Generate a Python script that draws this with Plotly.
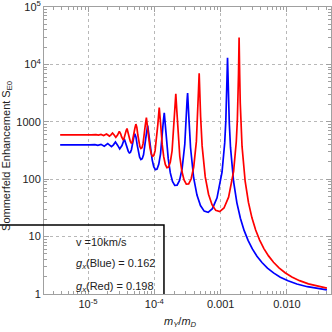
import plotly.graph_objects as go

# ---- data (x = m_Y/m_D, y = S_E0) ----
red_x = [0.0400, 0.03035, 0.02107, 0.01548, 0.01185, 0.009366, 0.007586, 0.00627, 0.005268, 0.004489,
         0.003871, 0.003372, 0.002963, 0.002625, 0.002341, 0.0021015, 0.0020157, 0.0019748, 0.0019351, 0.0018966,
         0.0018592, 0.001823, 0.0017877, 0.0017203, 0.0015675, 0.0013171, 0.0011223, 0.0009677, 0.0008429, 0.0007409,
         0.0006563, 0.0005854, 0.0005254, 0.0004988, 0.0004887, 0.0004838, 0.00047415, 0.0004648, 0.0004603, 0.0004513,
         0.00043007, 0.00039186, 0.00035853, 0.00032927, 0.00030346, 0.00028056, 0.00026017, 0.00024191, 0.00022552, 0.00021794,
         0.00021073, 0.00020388, 0.00019735, 0.00018521, 0.00017416, 0.00016407, 0.00015482, 0.00014634, 0.00013854, 0.00013134,
         0.00012469, 0.00011854, 0.00011283, 0.00010752, 0.00010257, 0.00009797, 0.00009366, 0.00008963, 0.00008586, 0.00008232,
         0.00007899, 0.00007586, 0.00007292, 0.00007014, 0.00006752, 0.00006504, 0.0000627, 0.00006048, 0.00005838, 0.00005638,
         0.00005448, 0.00005268, 0.00005097, 0.00004934, 0.00004779, 0.0000463, 0.00004489, 0.00004354, 0.00004225, 0.00004102,
         0.00003984, 0.00003871, 0.00003762, 0.00003659, 0.00003559, 0.00003464, 0.00003372, 0.00003284, 0.00003199, 0.00003117,
         0.00003039, 0.00002963, 0.00002787, 0.00002625, 0.00002477, 0.00002341, 0.00002217, 0.00002101, 0.00001995, 0.00001897,
         0.0000172, 0.00001567, 0.00001434, 0.00001317, 0.0000112, 0.0000038]
red_y = [1.264, 1.345, 1.500, 1.706, 1.979, 2.348, 2.854, 3.567, 4.608, 6.175,
         8.69, 13.0, 21.2, 39.4, 92.1, 372.5, 1002, 2126, 6814, 29300,
         6963, 2269, 1113, 449.4, 136.9, 48.6, 31.5, 27.2, 28.6, 35.9,
         54.7, 109.6, 380.7, 1229, 2525, 3849, 7040, 3825, 2556, 1304,
         450.8, 161.5, 100.6, 82.6, 82.3, 97.0, 137.5, 250.4, 712, 1610,
         3070, 1605, 763.8, 313.0, 199.7, 163.1, 159.0, 181.3, 243.9, 403.6,
         884.8, 1770, 894.8, 457.4, 310.6, 257.8, 249.7, 277.3, 353.4, 523.4,
         876.9, 1186, 863.3, 556.1, 412.1, 352.9, 342.2, 370.8, 446.2, 588.8,
         797.0, 912.5, 780.1, 601.4, 489.3, 435.9, 425.1, 450.2, 512.2, 610.5,
         719.5, 764.2, 706.6, 612.2, 538.6, 498.9, 490.2, 508.9, 552.0, 610.8,
         664.3, 682.5, 585.8, 535.5, 589.1, 637.7, 591.0, 563.6, 589.9, 614.0,
         578.5, 603.2, 586.1, 597.7, 593, 593]

blue_x = [0.0400, 0.031743, 0.020315, 0.014108, 0.010365, 0.0079356, 0.00627, 0.0050788, 0.0041974, 0.0035269,
          0.0030052, 0.0025912, 0.0022572, 0.0019839, 0.0017574, 0.0015675, 0.0014069, 0.0013494, 0.001322, 0.0012955,
          0.0012697, 0.0012447, 0.0012204, 0.0011968, 0.0011517, 0.0010493, 0.00088174, 0.0007513, 0.00064781, 0.00056431,
          0.00049598, 0.00043934, 0.00039188, 0.00035172, 0.00033391, 0.00032717, 0.00032387, 0.00031743, 0.00031117, 0.00030811,
          0.00030213, 0.00028791, 0.00026233, 0.00024002, 0.00022043, 0.00020315, 0.00018782, 0.00017417, 0.00016195, 0.00015098,
          0.0001459, 0.00014108, 0.00013649, 0.00013212, 0.00012399, 0.00011659, 0.00010984, 0.00010365, 0.000097971, 0.000092747,
          0.000087929, 0.000083478, 0.000079356, 0.000075532, 0.00007198, 0.00006867, 0.000065584, 0.000062701, 0.000060005, 0.00005748,
          0.000055109, 0.000052882, 0.000050788, 0.000048816, 0.000046956, 0.000045201, 0.000043543, 0.000041974, 0.000040488, 0.00003908,
          0.000037744, 0.000036475, 0.00003527, 0.000032504, 0.000030052, 0.000027868, 0.000025912, 0.000024157, 0.000022572, 0.00002114,
          0.000019839, 0.000017574, 0.000015675, 0.000014069, 0.000012697, 0.0000105, 0.0000038]
blue_y = [1.182, 1.223, 1.339, 1.491, 1.694, 1.964, 2.327, 2.827, 3.529, 4.554,
          6.097, 8.57, 12.81, 20.86, 38.73, 90.27, 361.5, 952.2, 1949, 5358,
          13100, 5389, 2053, 1048, 433.1, 133.3, 47.42, 30.68, 26.44, 27.78,
          34.77, 52.8, 105.0, 352.9, 1024, 1797, 2369, 3157, 2324, 1784,
          1058, 409.4, 152.2, 95.4, 78.42, 77.93, 91.5, 128.6, 227.9, 575.8,
          1039, 1427, 1014, 596.4, 276.3, 181.8, 149.9, 146.2, 165.4, 217.3,
          337.5, 605.8, 859, 595.9, 367.4, 266.6, 226.9, 220.6, 241.5, 295.2,
          395.8, 540.4, 616.6, 526.2, 405.6, 329.8, 294.0, 287.5, 305.3, 347.3,
          411.1, 476.6, 500.8, 386.4, 337.4, 391.6, 443.8, 397.2, 368.7, 393.6,
          416.6, 374.5, 404.5, 388.3, 399.7, 397, 397]

x_tickvals = [1e-5, 1e-4, 1e-3, 1e-2]
x_ticktext = ["10<sup>-5</sup>", "10<sup>-4</sup>", "0.001", "0.010"]
y_tickvals = [1, 10, 100, 1000, 1e4, 1e5]
y_ticktext = ["1", "10", "100", "1000", "10<sup>4</sup>", "10<sup>5</sup>"]

x_minor = [k * 10.0 ** d for d in range(-6, -1) for k in range(2, 10)]
y_minor = [k * 10.0 ** d for d in range(0, 5) for k in range(2, 10)]

FONT = "Liberation Sans, Arial, sans-serif"
TXT = "#222222"
FRAME = "#a0a0a0"

fig = go.Figure()
fig.add_trace(go.Scatter(x=blue_x, y=blue_y, mode="lines",
                         line=dict(color="#0000ff", width=1.7), showlegend=False))
fig.add_trace(go.Scatter(x=red_x, y=red_y, mode="lines",
                         line=dict(color="#ff0000", width=1.7), showlegend=False))

axis_common = dict(type="log", showline=True, linecolor=FRAME, linewidth=1, mirror="ticks",
                   ticks="inside", ticklen=5, tickcolor=FRAME, tickwidth=1,
                   showgrid=True, gridcolor="#b8b8b8", griddash="dot", gridwidth=1,
                   zeroline=False, tickfont=dict(family=FONT, size=11, color=TXT),
                   automargin=False, ticklabeloverflow="allow")

fig.update_xaxes(range=[-5.664, -1.336], tickmode="array", tickvals=x_tickvals, ticktext=x_ticktext,
                 minor=dict(tickmode="array", tickvals=x_minor, ticks="inside", ticklen=3,
                            tickcolor=FRAME, showgrid=False),
                 **axis_common)
fig.update_yaxes(range=[-0.0005, 5.0005], tickmode="array", tickvals=y_tickvals, ticktext=y_ticktext,
                 minor=dict(tickmode="array", tickvals=y_minor, ticks="inside", ticklen=3,
                            tickcolor=FRAME, showgrid=False),
                 **axis_common)

# legend-like box (top and right edges)
fig.add_shape(type="path", xref="paper", yref="paper",
              path="M -0.2,0.2404 L 0.418,0.2404 L 0.418,0",
              line=dict(color="black", width=1.5), layer="above")

ann_font = dict(family=FONT, size=11, color=TXT)
fig.add_annotation(xref="paper", yref="paper", x=0.1045, y=0.1822, xanchor="left", yanchor="middle",
                   text="v =10km/s", showarrow=False, font=ann_font)
fig.add_annotation(xref="paper", yref="paper", x=0.1045, y=0.1035, xanchor="left", yanchor="middle",
                   text="<i>g</i><sub><i>x</i></sub>(Blue) = 0.162", showarrow=False, font=ann_font)
fig.add_annotation(xref="paper", yref="paper", x=0.1045, y=0.0244, xanchor="left", yanchor="middle",
                   text="<i>g</i><sub><i>x</i></sub>(Red) = 0.198", showarrow=False, font=ann_font)

# axis titles
fig.add_annotation(xref="paper", yref="paper", x=-0.129, y=0.481, xanchor="center", yanchor="middle",
                   textangle=-90, text="Sommerfeld Enhancement S<sub>E0</sub>", showarrow=False,
                   font=ann_font)
fig.add_annotation(xref="paper", yref="paper", x=0.474, y=-0.098, xanchor="center", yanchor="middle",
                   text="<i>m</i><sub><i>Y</i></sub>/<i>m</i><sub><i>D</i></sub>", showarrow=False,
                   font=ann_font)

fig.update_layout(width=332, height=332, margin=dict(l=44, r=1, t=7, b=38, autoexpand=False),
                  paper_bgcolor="white", plot_bgcolor="white",
                  font=dict(family=FONT, size=11, color=TXT))

fig.write_html("out.html", config={"displayModeBar": False},
               post_script="document.body.style.margin='0px';")
